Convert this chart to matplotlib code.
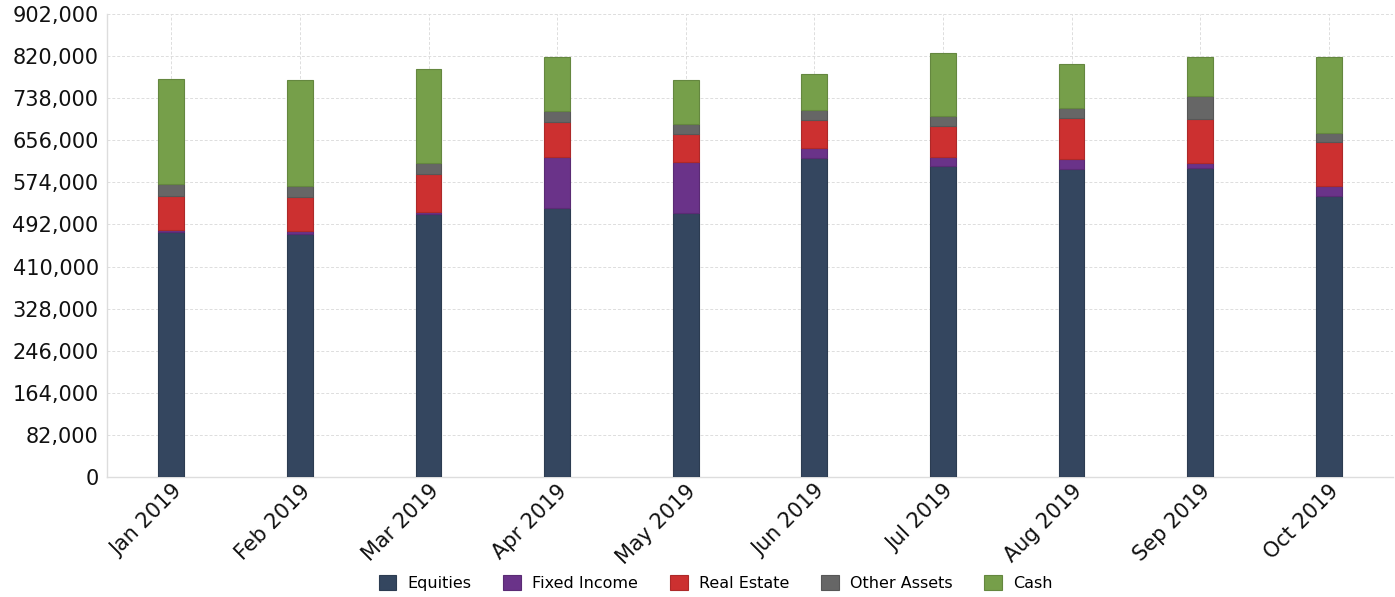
import matplotlib

matplotlib.use("Agg")
import matplotlib.pyplot as plt
import numpy as np
from matplotlib.ticker import FuncFormatter

months = ["Jan 2019", "Feb 2019", "Mar 2019", "Apr 2019", "May 2019",
          "Jun 2019", "Jul 2019", "Aug 2019", "Sep 2019", "Oct 2019"]
equities = [477000, 474000, 512000, 524000, 514000, 622000, 606000, 600000, 602000, 548000]
fixed_income = [4000, 4500, 4500, 100000, 99000, 18000, 17000, 19000, 10000, 19000]
real_estate = [67000, 67000, 73000, 67000, 54500, 55000, 60000, 80000, 86000, 85000]
other_assets = [22000, 21000, 21500, 22000, 20000, 19500, 21000, 20000, 45000, 17500]
cash = [205000, 206000, 183000, 105000, 86000, 71500, 122000, 85000, 75000, 148000]

series = [
    ("Equities", equities, "#34465f"),
    ("Fixed Income", fixed_income, "#6a3389"),
    ("Real Estate", real_estate, "#cc3030"),
    ("Other Assets", other_assets, "#666666"),
    ("Cash", cash, "#769f4a"),
]
yticks = np.arange(0, 902001, 82000)

fig = plt.figure(figsize=(13.95, 5.97), dpi=100)
ax = fig.add_axes([107 / 1395, 1 - 477 / 597, (1393 - 107) / 1395, (477 - 14) / 597])

x = np.arange(len(months))
bottom = np.zeros(len(months))
handles = []
for name, vals, color in series:
    vals = np.array(vals, dtype=float)
    edge = tuple(c * 0.85 for c in matplotlib.colors.to_rgb(color))
    b = ax.bar(x, vals, width=0.2, bottom=bottom, color=color, edgecolor=edge,
               linewidth=0.8, label=name, zorder=3)
    handles.append(b)
    bottom += vals

ax.set_xlim(-0.5, len(months) - 0.5)
ax.set_ylim(0, 902000)
ax.set_yticks(yticks)
ax.yaxis.set_major_formatter(FuncFormatter(lambda v, _: f"{v:,.0f}"))
ax.set_xticks(x)
ax.set_xticklabels(months, rotation=45, ha="right", rotation_mode="anchor")
ax.tick_params(axis="both", length=0, labelsize=15, colors="#111111")
ax.tick_params(axis="x", pad=3, labelsize=15)
ax.tick_params(axis="y", pad=6)
ax.grid(True, axis="both", color="#dddddd", linestyle=(0, (3, 2)), linewidth=0.7, zorder=0)
for side in ("top", "right"):
    ax.spines[side].set_visible(False)
for side in ("left", "bottom"):
    ax.spines[side].set_color("#dddddd")
    ax.spines[side].set_linewidth(1.0)

fig.legend(handles=handles, labels=[s[0] for s in series], loc="center",
           bbox_to_anchor=(0.513, 1 - 583 / 597), ncol=5, frameon=False, fontsize=11.5,
           handlelength=1.1, handleheight=1.1, handletextpad=0.7, columnspacing=2.0)

fig.savefig("out.png", dpi=100)
